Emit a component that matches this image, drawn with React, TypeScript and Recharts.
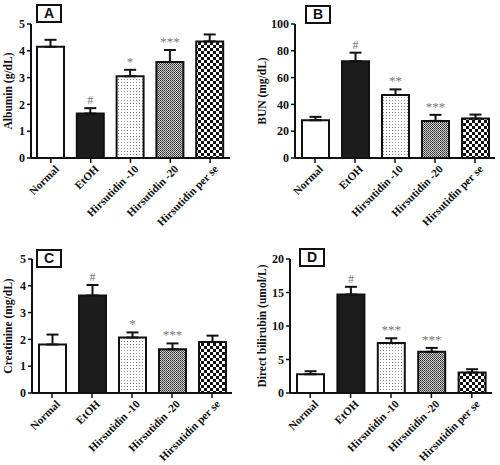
import { Bar, BarChart, Cell, ErrorBar, XAxis, YAxis } from 'recharts'

const groups = ['Normal', 'EtOH', 'Hirsutidin -10', 'Hirsutidin -20', 'Hirsutidin per se']

const albumin = [4.15, 1.66, 3.05, 3.58, 4.35]
const albuminErr = [0.26, 0.2, 0.24, 0.45, 0.26]
const albuminMarks = ['', '#', '*', '***', '']
const albuminTicks = [0, 1, 2, 3, 4, 5]

const bun = [28.2, 72.2, 47, 27.7, 29.4]
const bunErr = [2.5, 6.4, 4.2, 4.5, 3.0]
const bunMarks = ['', '#', '**', '***', '']
const bunTicks = [0, 20, 40, 60, 80, 100]

const creatinine = [1.81, 3.64, 2.07, 1.63, 1.9]
const creatinineErr = [0.37, 0.39, 0.19, 0.22, 0.24]
const creatinineMarks = ['', '#', '*', '***', '']
const creatinineTicks = [0, 1, 2, 3, 4, 5]

const bilirubin = [2.8, 14.7, 7.45, 6.15, 3.05]
const bilirubinErr = [0.45, 1.15, 0.72, 0.58, 0.5]
const bilirubinMarks = ['', '#', '***', '***', '']
const bilirubinTicks = [0, 5, 10, 15, 20]

const fills = ['#ffffff', '#1c1c1c', 'url(#dots)', 'url(#fine)', 'url(#check)']
const serif = '"Liberation Serif", "Times New Roman", serif'

const build = (vals: number[], errs: number[], marks: string[]) =>
   groups.map((g, i) => ({ name: g, value: vals[i], err: [0, errs[i]], mark: marks[i] }))

const XTick = ({ x, y, payload }: any) => (
   <g transform={`translate(${x + 4},${y})`}>
      <text
         transform="rotate(-45)"
         textAnchor="end"
         dy="0.6em"
         fontFamily={serif}
         fontWeight="bold"
         fontSize={11.2}
         fill="#111"
      >
         {payload.value}
      </text>
   </g>
)

const YTick = ({ x, y, payload }: any) => (
   <text x={x} y={y} dy="0.35em" textAnchor="end" fontFamily={serif} fontWeight="bold" fontSize={12} fill="#111">
      {payload.value}
   </text>
)

function Panel(props: any) {
   const { left, top, width, height, axisW, mTop, mRight, plotH, letter, label, labelX, ticks, max, vals, errs, marks } = props
   const data = build(vals, errs, marks)
   const labelY = mTop + plotH / 2
   return (
      <div style={{ position: 'absolute', left, top, width, height }}>
         <BarChart
            width={width}
            height={height}
            data={data}
            margin={{ top: mTop, right: mRight, bottom: 0, left: 0 }}
            barCategoryGap={6}
         >
            <XAxis
               dataKey="name"
               interval={0}
               height={height - mTop - plotH}
               tick={<XTick />}
               tickSize={5}
               axisLine={{ stroke: '#111', strokeWidth: 2 }}
               tickLine={{ stroke: '#111', strokeWidth: 1.5 }}
            />
            <YAxis
               width={axisW}
               domain={[0, max]}
               ticks={ticks}
               interval={0}
               tickSize={4}
               tickMargin={2}
               axisLine={{ stroke: '#111', strokeWidth: 2 }}
               tickLine={{ stroke: '#111', strokeWidth: 1.5 }}
               tick={<YTick />}
               label={{
                  content: () => (
                     <text
                        x={labelX}
                        y={labelY}
                        transform={`rotate(-90 ${labelX} ${labelY})`}
                        textAnchor="middle"
                        dominantBaseline="central"
                        fontFamily={serif}
                        fontWeight="bold"
                        fontSize={11.5}
                        fill="#111"
                     >
                        {label}
                     </text>
                  )
               }}
            />
            <Bar
               dataKey="value"
               barSize={27}
               stroke="#111"
               strokeWidth={2}
               isAnimationActive={false}
               label={(p: any) => {
                  const d = data[p.index]
                  if (!d || !d.mark) return null
                  const pxPerUnit = p.height / d.value
                  const capY = p.y - d.err[1] * pxPerUnit
                  return (
                     <text
                        x={p.x + p.width / 2}
                        y={capY - 4}
                        textAnchor="middle"
                        fontFamily={serif}
                        fontSize={d.mark === '#' ? 12 : 13}
                        fill="#777"
                     >
                        {d.mark}
                     </text>
                  )
               }}
            >
               {data.map((_, i) => (
                  <Cell key={i} fill={fills[i]} />
               ))}
               <ErrorBar dataKey="err" width={6} stroke="#111" strokeWidth={2} direction="y" />
            </Bar>
         </BarChart>
         <div
            style={{
               position: 'absolute',
               left: letter.x,
               top: letter.y,
               width: 22,
               height: 15,
               border: '2px solid #111',
               background: '#fff',
               fontFamily: '"Liberation Sans", Arial, sans-serif',
               fontWeight: 'bold',
               fontSize: 14,
               lineHeight: '15px',
               textAlign: 'center',
               color: '#111'
            }}
         >
            {letter.t}
         </div>
      </div>
   )
}

export default function App() {
   return (
      <div style={{ position: 'absolute', left: 0, top: 0, width: 500, height: 465, background: '#fff' }}>
         <svg width={0} height={0} style={{ position: 'absolute' }}>
            <defs>
               <pattern id="dots" width={3} height={3} patternUnits="userSpaceOnUse">
                  <rect width={3} height={3} fill="#fff" />
                  <rect x={1} y={1} width={1} height={1} fill="#888" />
               </pattern>
               <pattern id="fine" width={2} height={2} patternUnits="userSpaceOnUse">
                  <rect width={2} height={2} fill="#ccc" />
                  <rect x={0} y={0} width={1} height={1} fill="#333" />
                  <rect x={1} y={1} width={1} height={1} fill="#555" />
               </pattern>
               <pattern id="check" width={6} height={6} patternUnits="userSpaceOnUse">
                  <rect width={6} height={6} fill="#fff" />
                  <rect x={0} y={0} width={3} height={3} fill="#111" />
                  <rect x={3} y={3} width={3} height={3} fill="#111" />
               </pattern>
            </defs>
         </svg>
         <Panel
            left={0} top={0} width={250} height={232} axisW={31} mTop={24} mRight={20} plotH={134}
            letter={{ t: 'A', x: 36, y: 4 }} label="Albumin (g/dL)" labelX={8}
            ticks={albuminTicks} max={5} vals={albumin} errs={albuminErr} marks={albuminMarks}
         />
         <Panel
            left={250} top={0} width={250} height={232} axisW={45} mTop={24} mRight={5} plotH={134}
            letter={{ t: 'B', x: 55, y: 5 }} label="BUN (mg/dL)" labelX={12}
            ticks={bunTicks} max={100} vals={bun} errs={bunErr} marks={bunMarks}
         />
         <Panel
            left={0} top={232} width={250} height={233} axisW={32} mTop={27} mRight={18} plotH={134}
            letter={{ t: 'C', x: 36, y: 17 }} label="Creatinine (mg/dL)" labelX={8}
            ticks={creatinineTicks} max={5} vals={creatinine} errs={creatinineErr} marks={creatinineMarks}
         />
         <Panel
            left={250} top={232} width={250} height={233} axisW={40} mTop={27} mRight={8} plotH={134}
            letter={{ t: 'D', x: 49, y: 16 }} label="Direct bilirubin (umol/L)" labelX={12}
            ticks={bilirubinTicks} max={20} vals={bilirubin} errs={bilirubinErr} marks={bilirubinMarks}
         />
      </div>
   )
}
